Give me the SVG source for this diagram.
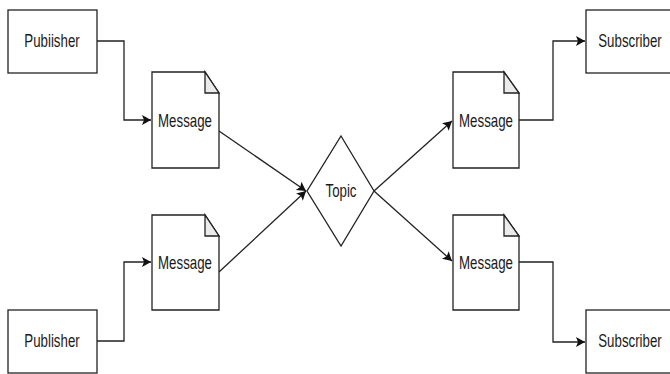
<svg xmlns="http://www.w3.org/2000/svg" width="670" height="374" viewBox="0 0 670 374">
  <style>
    .box { fill: #ffffff; stroke: #222222; stroke-width: 1.3; }
    .fold { fill: #ebebeb; stroke: #222222; stroke-width: 1.3; stroke-linejoin: miter; }
    .edge { fill: none; stroke: #222222; stroke-width: 1.3; marker-end: url(#arrow); }
    .label { font-family: "Liberation Sans", Arial, Helvetica, sans-serif; font-size: 13.3px; fill: #1a1a1a; text-anchor: middle; }
  </style>
  <defs>
    <marker id="arrow" viewBox="-10 -6 11 12" refX="0" refY="0" markerWidth="11" markerHeight="12" markerUnits="userSpaceOnUse" orient="auto">
      <path d="M0,0 L-9,-5 L-7,0 L-9,5 Z" fill="#111111"/>
    </marker>
  </defs>
  <rect width="670" height="374" fill="#ffffff"/>

  <g id="connectors">
    <path class="edge" d="M97,41 H124 V120 H151"/>
    <path class="edge" d="M97,341 H124 V262 H151"/>
    <path class="edge" d="M219,131 L306,191"/>
    <path class="edge" d="M219,272 L306,191"/>
    <path class="edge" d="M374,191 L452,121"/>
    <path class="edge" d="M374,191 L452,261"/>
    <path class="edge" d="M519,120 H553 V41 H585"/>
    <path class="edge" d="M519,262 H553 V342 H585"/>
  </g>

  <!-- labels are drawn tall and narrow: horizontal size 13.3px, stretched 1.45x vertically -->
  <g id="publisher-top">
    <rect class="box" x="8" y="10" width="89" height="63"/>
    <text class="label" transform="translate(52,47) scale(1,1.45)">Pubiisher</text>
  </g>
  <g id="publisher-bottom">
    <rect class="box" x="8" y="310" width="89" height="63"/>
    <text class="label" transform="translate(52,347) scale(1,1.45)">Publisher</text>
  </g>

  <g id="message-in-top">
    <path class="box" d="M152,72 H205 L219,93 V168 H152 Z"/>
    <path class="fold" d="M205,72 V93 H219 Z"/>
    <text class="label" transform="translate(185,127) scale(1,1.45)">Message</text>
  </g>
  <g id="message-in-bottom">
    <path class="box" d="M152,215 H205 L219,236 V310 H152 Z"/>
    <path class="fold" d="M205,215 V236 H219 Z"/>
    <text class="label" transform="translate(185,269) scale(1,1.45)">Message</text>
  </g>

  <g id="topic">
    <path class="box" d="M341,136 L374,191 L341,246 L307,191 Z"/>
    <text class="label" transform="translate(341,197) scale(1,1.45)">Topic</text>
  </g>

  <g id="message-out-top">
    <path class="box" d="M453,72 H504 L519,93 V168 H453 Z"/>
    <path class="fold" d="M504,72 V93 H519 Z"/>
    <text class="label" transform="translate(486,127) scale(1,1.45)">Message</text>
  </g>
  <g id="message-out-bottom">
    <path class="box" d="M453,215 H504 L519,236 V310 H453 Z"/>
    <path class="fold" d="M504,215 V236 H519 Z"/>
    <text class="label" transform="translate(486,269) scale(1,1.45)">Message</text>
  </g>

  <g id="subscriber-top">
    <rect class="box" x="586" y="10" width="89" height="63"/>
    <text class="label" transform="translate(630,47) scale(1,1.45)">Subscriber</text>
  </g>
  <g id="subscriber-bottom">
    <rect class="box" x="586" y="310" width="89" height="63"/>
    <text class="label" transform="translate(630,347) scale(1,1.45)">Subscriber</text>
  </g>
</svg>
